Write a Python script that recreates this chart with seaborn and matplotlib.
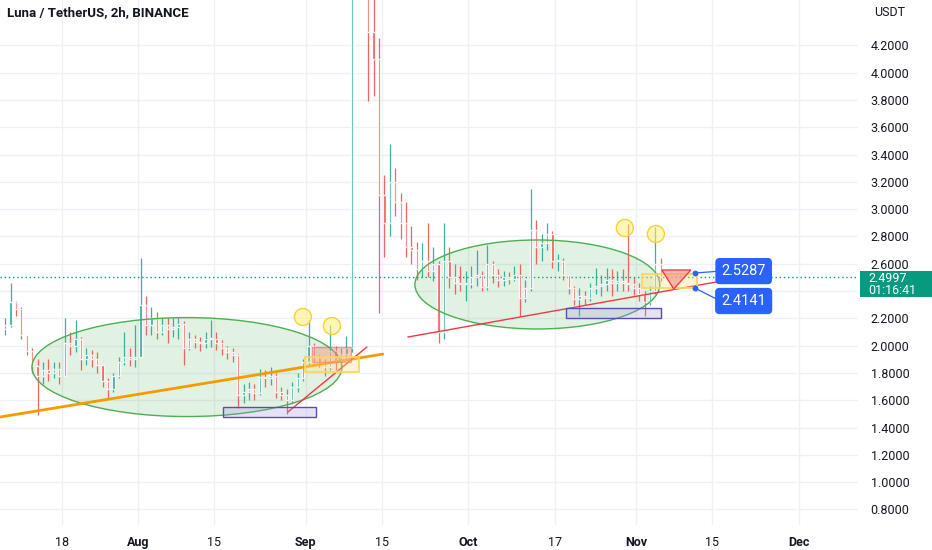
import numpy as np
import pandas as pd
import seaborn as sns
import matplotlib.pyplot as plt
from matplotlib.patches import Ellipse, Rectangle, Polygon

# =====================================================
# Data (daily candles, day 0 = 7 Jul)
# =====================================================

first_open = 2.12

close = [
    2.15, 2.32, 2.27, 2.08, 1.96, 1.85, 1.78, 1.82, 1.80, 1.83,
    1.78, 2.02, 2.00, 2.05, 1.90, 1.93, 1.90, 1.86, 1.74, 1.68,
    1.78, 1.88, 1.92, 1.90, 1.92, 2.30, 2.15, 2.20, 2.10, 2.15,
    2.12, 2.14, 2.16, 1.98, 2.05, 2.03, 2.02, 2.05, 2.05, 2.02,
    1.98, 1.95, 1.93, 1.64, 1.66, 1.68, 1.65, 1.77, 1.76, 1.78,
    1.66, 1.64, 1.60, 1.70, 1.76, 1.88, 2.00, 1.92, 1.87, 1.84,
    1.96, 1.88, 1.94, 1.98, 4.70, 5.00, 4.80, 4.30, 4.10, 3.10,
    2.90, 3.20, 3.05, 2.90, 2.72, 2.70, 2.56, 2.62, 2.55, 2.60,
    2.10, 2.62, 2.50, 2.46, 2.45, 2.45, 2.50, 2.52, 2.43, 2.60,
    2.52, 2.48, 2.50, 2.49, 2.52, 2.35, 2.42, 2.85, 2.72, 2.75,
    2.82, 2.62, 2.62, 2.52, 2.42, 2.34, 2.36, 2.35, 2.42, 2.44,
    2.45, 2.48, 2.46, 2.47, 2.46, 2.45, 2.42, 2.38, 2.32, 2.40,
    2.60, 2.4997,
]

high = [
    2.20, 2.46, 2.33, 2.28, 2.08, 1.98, 1.90, 1.88, 1.90, 1.88,
    1.88, 2.20, 2.10, 2.19, 2.06, 1.98, 1.97, 1.95, 1.86, 1.76,
    1.80, 1.92, 2.10, 1.98, 2.15, 2.64, 2.36, 2.28, 2.25, 2.20,
    2.20, 2.20, 2.20, 2.18, 2.10, 2.08, 2.06, 2.10, 2.19, 2.10,
    2.04, 2.00, 1.98, 1.94, 1.72, 1.73, 1.72, 1.83, 1.82, 1.84,
    1.80, 1.70, 1.68, 1.73, 1.80, 1.90, 2.19, 2.02, 1.93, 1.90,
    2.15, 2.00, 1.98, 2.07, 4.90, 5.40, 5.20, 4.90, 4.60, 4.25,
    3.25, 3.48, 3.30, 3.12, 3.05, 2.88, 2.76, 2.75, 2.90, 2.72,
    2.62, 2.90, 2.72, 2.60, 2.58, 2.55, 2.58, 2.70, 2.55, 2.74,
    2.62, 2.56, 2.55, 2.54, 2.58, 2.60, 2.48, 3.15, 2.92, 2.82,
    2.90, 2.84, 2.67, 2.64, 2.52, 2.44, 2.42, 2.40, 2.46, 2.57,
    2.52, 2.57, 2.56, 2.55, 2.56, 2.89, 2.50, 2.46, 2.40, 2.44,
    2.87, 2.64,
]

low = [
    2.08, 2.14, 2.22, 2.05, 1.93, 1.80, 1.49, 1.72, 1.74, 1.76,
    1.72, 1.78, 1.93, 1.95, 1.82, 1.86, 1.84, 1.80, 1.70, 1.62,
    1.66, 1.76, 1.86, 1.85, 1.84, 1.92, 2.08, 2.08, 2.05, 2.08,
    2.02, 2.06, 2.05, 1.86, 1.97, 1.98, 1.96, 1.98, 1.99, 1.97,
    1.93, 1.90, 1.88, 1.54, 1.58, 1.60, 1.60, 1.64, 1.70, 1.71,
    1.62, 1.60, 1.50, 1.58, 1.66, 1.74, 1.86, 1.88, 1.84, 1.78,
    1.82, 1.82, 1.84, 1.90, 1.95, 4.60, 4.60, 3.79, 3.83, 2.24,
    2.65, 2.80, 2.95, 2.78, 2.65, 2.60, 2.48, 2.50, 2.50, 2.47,
    2.02, 2.05, 2.42, 2.38, 2.40, 2.33, 2.42, 2.44, 2.40, 2.41,
    2.46, 2.43, 2.44, 2.45, 2.47, 2.22, 2.32, 2.40, 2.60, 2.62,
    2.70, 2.57, 2.55, 2.48, 2.38, 2.30, 2.22, 2.30, 2.33, 2.38,
    2.36, 2.40, 2.36, 2.40, 2.40, 2.40, 2.37, 2.33, 2.22, 2.30,
    2.38, 2.47,
]

last_price = 2.4997
countdown = "01:16:41"

date_tick_days = [11, 25, 39, 56, 70, 86, 102, 117, 131, 147]
date_tick_labels = ["18", "Aug", "15", "Sep", "15", "Oct", "17", "Nov", "15", "Dec"]
price_ticks = [0.8, 1.0, 1.2, 1.4, 1.6, 1.8, 2.0, 2.2, 2.4, 2.6, 2.8,
               3.0, 3.2, 3.4, 3.6, 3.8, 4.0, 4.2]

# drawings (day, price)
ellipse_centers = [(34.06, 1.843), (98.73, 2.448)]
ellipse_sizes = [(57.2, 0.725), (45.2, 0.652)]
orange_line = [(-0.44, 1.477), (70.2, 1.938)]
red_lines = [[(52.7, 1.514), (67.27, 1.99)], [(74.83, 2.063), (133.7, 2.48)]]
purple_boxes = [(40.7, 1.477, 57.9, 1.55), (104.0, 2.20, 121.5, 2.275)]
yellow_boxes = [(55.8, 1.81, 65.8, 1.916), (118.0, 2.422, 128.2, 2.525)]
salmon_box = (57.12, 1.88, 64.3, 1.99)
red_triangle = [(121.7, 2.554), (127.04, 2.554), (123.9, 2.415)]
circle_days = [55.46, 60.81, 114.87, 120.6]
circle_prices = [2.21, 2.144, 2.862, 2.818]
level_labels = ["2.5287", "2.4141"]
level_points = [(127.8, 2.532), (127.8, 2.422)]
level_boxes = [(136.8, 2.546), (136.8, 2.327)]

GREEN = "#26a69a"
RED = "#ef5350"
TEXT = "#131722"

# =====================================================
# Figure
# =====================================================

sns.set_style("white")
plt.rcParams["font.family"] = ["Roboto", "DejaVu Sans"]

fig = plt.figure(figsize=(9.32, 5.5), dpi=100)
ax = fig.add_axes([0, 25 / 550, 858 / 932, 525 / 550])

for s in ax.spines.values():
    s.set_visible(False)

ax.set_xlim(-0.44, 157.9)
ax.set_ylim(0.686, 4.532)

ax.set_xticks(date_tick_days)
ax.set_xticklabels(date_tick_labels)
ax.set_yticks(price_ticks)
ax.set_yticklabels(["" if abs(v - 2.4) < 1e-6 else f"{v:.4f}" for v in price_ticks])
ax.yaxis.tick_right()
ax.tick_params(axis="x", length=0, pad=8, labelsize=9, labelcolor=TEXT)
ax.tick_params(axis="y", length=0, pad=9, labelsize=9, labelcolor=TEXT)
for lbl in ax.get_yticklabels():
    lbl.set_horizontalalignment("left")
for lbl in ax.get_xticklabels():
    if not lbl.get_text().isdigit():
        lbl.set_fontweight("bold")

ax.grid(True, color="#eef0f5", lw=1)
ax.set_axisbelow(True)

# =====================================================
# Candles
# =====================================================

df = pd.DataFrame({"close": close, "high": high, "low": low})
df["open"] = [first_open] + close[:-1]
df["x"] = np.arange(len(df)) + 0.5
colors = np.where(df["close"] >= df["open"], GREEN, RED)

ax.vlines(df["x"], df["low"], df["high"], colors=colors, lw=0.9, alpha=0.9, zorder=3)
ax.bar(
    df["x"],
    (df["close"] - df["open"]).abs().clip(lower=0.006),
    bottom=df[["open", "close"]].min(axis=1),
    width=0.42,
    color=colors,
    alpha=0.9,
    zorder=3,
)

ax.axhline(last_price, color="#089981", ls=(0, (1, 2)), lw=1, zorder=2)

# =====================================================
# Drawings
# =====================================================

for (cx, cy), (w, h) in zip(ellipse_centers, ellipse_sizes):
    ax.add_patch(Ellipse((cx, cy), w, h, fc="#4caf50", alpha=0.16, zorder=2))
    ax.add_patch(Ellipse((cx, cy), w, h, fill=False, ec="#4caf50", lw=1, zorder=4))

ol = pd.DataFrame(orange_line, columns=["day", "price"])
sns.lineplot(data=ol, x="day", y="price", color="#f59b00", lw=2, ax=ax, zorder=4)
for seg in red_lines:
    rl = pd.DataFrame(seg, columns=["day", "price"])
    sns.lineplot(data=rl, x="day", y="price", color="#f23645", lw=1, ax=ax, zorder=4)
ax.set_xlabel("")
ax.set_ylabel("")

for x0, y0, x1, y1 in purple_boxes:
    ax.add_patch(Rectangle((x0, y0), x1 - x0, y1 - y0, fc="#9c8fd8", alpha=0.25, zorder=4))
    ax.add_patch(Rectangle((x0, y0), x1 - x0, y1 - y0, fill=False, ec="#5b4bb5", lw=1, zorder=4))

x0, y0, x1, y1 = salmon_box
ax.add_patch(Rectangle((x0, y0), x1 - x0, y1 - y0, fc="#f28b82", alpha=0.45, ec="#f23645", lw=1, zorder=4))

for x0, y0, x1, y1 in yellow_boxes:
    ax.add_patch(Rectangle((x0, y0), x1 - x0, y1 - y0, fc="#ffe082", alpha=0.35, zorder=4))
    ax.add_patch(Rectangle((x0, y0), x1 - x0, y1 - y0, fill=False, ec="#ffd54f", lw=1.2, zorder=4))

ax.add_patch(Polygon(red_triangle, closed=True, fc="#f28b82", alpha=0.6, zorder=4))
ax.add_patch(Polygon(red_triangle, closed=True, fill=False, ec="#f23645", lw=1, zorder=4))

ax.scatter(circle_days, circle_prices, s=150, fc="#fff176", alpha=0.55, ec="none", zorder=5)
ax.scatter(circle_days, circle_prices, s=150, fc="none", ec="#f6d13a", lw=1, zorder=5)

for text, (px, py), (bx, by) in zip(level_labels, level_points, level_boxes):
    ax.plot([px, bx - 4.3], [py, by], color="#2962ff", lw=0.9, zorder=5)
    ax.scatter([px], [py], s=10, color="#2962ff", zorder=6)
    ax.text(bx, by, text, color="white", fontsize=10.5, ha="center", va="center", zorder=6,
            bbox=dict(boxstyle="round,pad=0.42,rounding_size=0.3", fc="#2962ff", ec="none"))

# =====================================================
# Header and price scale label
# =====================================================

fig.text(7 / 932, 1 - 13 / 550, "Luna / TetherUS, 2h, BINANCE", fontsize=9.5,
         fontweight="bold", color=TEXT, ha="left", va="center")
fig.text(874 / 932, 1 - 12 / 550, "USDT", fontsize=9, color=TEXT, ha="left", va="center")

fig.add_artist(Rectangle((860 / 932, 1 - 297 / 550), 72 / 932, 26 / 550,
                         transform=fig.transFigure, fc="#089981", ec="none"))
fig.text(868 / 932, 1 - 278 / 550, f"{last_price:.4f}", fontsize=9, color="white",
         ha="left", va="center")
fig.text(868 / 932, 1 - 291 / 550, countdown, fontsize=9, color="white",
         ha="left", va="center")

plt.savefig("out.png", dpi=100)
plt.close()
